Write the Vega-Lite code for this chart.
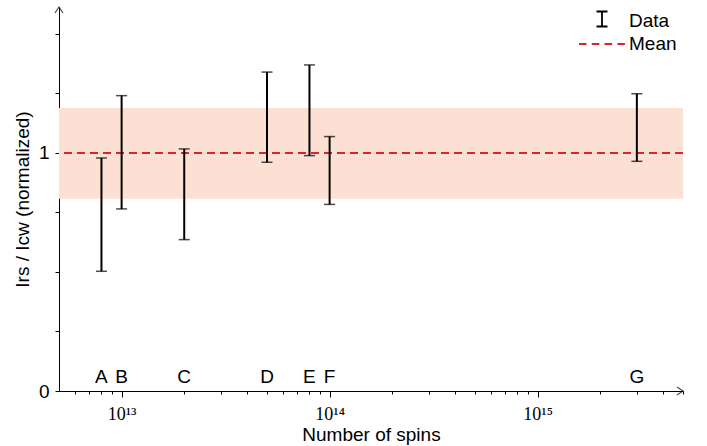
{
  "$schema": "https://vega.github.io/schema/vega-lite/v6.json",
  "width": 624,
  "height": 384,
  "autosize": {"type": "none"},
  "padding": {"left": 59, "top": 7, "right": 24, "bottom": 55},
  "config": {
    "view": {"stroke": null},
    "font": "Liberation Sans",
    "axis": {"grid": false, "domainColor": "#000", "tickColor": "#000", "labelColor": "#000", "titleColor": "#000", "titleFontWeight": "normal"}
  },
  "datasets": {
    "points": [
      {"label": "A", "spins": 8e12, "lo": 0.503, "hi": 0.979},
      {"label": "B", "spins": 1e13, "lo": 0.765, "hi": 1.241},
      {"label": "C", "spins": 2e13, "lo": 0.636, "hi": 1.017},
      {"label": "D", "spins": 5e13, "lo": 0.961, "hi": 1.340},
      {"label": "E", "spins": 8e13, "lo": 0.989, "hi": 1.370},
      {"label": "F", "spins": 1e14, "lo": 0.784, "hi": 1.069},
      {"label": "G", "spins": 3e15, "lo": 0.965, "hi": 1.249}
    ],
    "band": [{"lo": 0.808, "hi": 1.189}],
    "mean": [{"mean": 1}],
    "legend": [{"series": "Data"}, {"series": "Mean"}]
  },
  "layer": [
    {
      "data": {"name": "band"},
      "mark": {"type": "rect", "color": "#fce0d4"},
      "encoding": {
        "y": {"field": "lo", "type": "quantitative", "scale": {"domain": [0, 1.6134], "nice": false, "zero": false},
          "axis": {
            "values": [0, 0.25, 0.5, 0.75, 1, 1.25, 1.5],
            "labelExpr": "datum.value == 0 ? '0' : (datum.value == 1 ? '1' : '')",
            "tickSize": 4, "labelPadding": 6, "labelFontSize": 19, "labelFont": "Liberation Sans",
            "domainWidth": 1, "tickWidth": 1,
            "title": "Irs / Icw (normalized)", "titleFontSize": 19, "titleFont": "Liberation Sans", "titlePadding": 6
          }},
        "y2": {"field": "hi"}
      }
    },
    {
      "data": {"name": "mean"},
      "mark": {"type": "rule", "color": "#d7262b", "strokeWidth": 2, "strokeDash": [8, 5]},
      "encoding": {"y": {"field": "mean", "type": "quantitative"}}
    },
    {
      "data": {"name": "points"},
      "mark": {"type": "rule", "color": "#000", "strokeWidth": 2},
      "encoding": {
        "x": {"field": "spins", "type": "quantitative",
          "scale": {"type": "log", "domain": [5e12, 5e15], "nice": false},
          "axis": {
            "values": [6e12, 7e12, 8e12, 9e12, 1e13, 2e13, 3e13, 4e13, 5e13, 6e13, 7e13, 8e13, 9e13, 1e14, 2e14, 3e14, 4e14, 5e14, 6e14, 7e14, 8e14, 9e14, 1e15, 2e15, 3e15, 4e15, 5e15],
            "labelExpr": "datum.value == 1e13 ? '10¹³' : (datum.value == 1e14 ? '10¹⁴' : (datum.value == 1e15 ? '10¹⁵' : ''))",
            "tickSize": {"condition": {"test": "datum.value == 1e13 || datum.value == 1e14 || datum.value == 1e15", "value": 6}, "value": 3},
            "labelPadding": 8, "labelFont": "Liberation Serif", "labelFontSize": 18, "labelFlush": false, "labelOverlap": false,
            "domainWidth": 1, "tickWidth": 1,
            "title": "Number of spins", "titleFontSize": 19, "titleFont": "Liberation Sans", "titlePadding": 2
          }},
        "y": {"field": "lo", "type": "quantitative"},
        "y2": {"field": "hi"}
      }
    },
    {
      "data": {"name": "points"},
      "mark": {"type": "tick", "orient": "horizontal", "color": "#000", "size": 11, "thickness": 1.5},
      "encoding": {
        "x": {"field": "spins", "type": "quantitative"},
        "y": {"field": "lo", "type": "quantitative"}
      }
    },
    {
      "data": {"name": "points"},
      "mark": {"type": "tick", "orient": "horizontal", "color": "#000", "size": 11, "thickness": 1.5},
      "encoding": {
        "x": {"field": "spins", "type": "quantitative"},
        "y": {"field": "hi", "type": "quantitative"}
      }
    },
    {
      "data": {"name": "points"},
      "mark": {"type": "text", "baseline": "alphabetic", "align": "center", "fontSize": 19, "font": "Liberation Sans", "color": "#000"},
      "encoding": {
        "x": {"field": "spins", "type": "quantitative"},
        "y": {"datum": 0.034},
        "text": {"field": "label"}
      }
    },
    {
      "data": {"name": "mean"},
      "mark": {"type": "point", "shape": "M-1.5,-1L0,0L-1.5,1", "size": 64, "filled": false, "stroke": "#000", "strokeWidth": 1.2},
      "encoding": {"x": {"datum": 5e15}, "y": {"datum": 0}}
    },
    {
      "data": {"name": "mean"},
      "mark": {"type": "point", "shape": "M-1,1.5L0,0L1,1.5", "size": 64, "filled": false, "stroke": "#000", "strokeWidth": 1.2},
      "encoding": {"x": {"datum": 5e12}, "y": {"datum": 1.6134}}
    },
    {
      "data": {"name": "legend"},
      "mark": {"type": "point", "filled": false, "opacity": 0},
      "encoding": {
        "shape": {"field": "series", "type": "nominal",
          "scale": {"domain": ["Data", "Mean"], "range": ["M-1.75,-0.95H-0.65M-1.2,-0.95V0.55M-1.75,0.55H-0.65", "M-3.5,0H-2.75M-2.22,0H-1.47M-0.94,0H-0.19M0.34,0H1.09"]},
          "legend": {"title": null, "orient": "none", "legendX": 544, "legendY": 3, "padding": 0, "symbolSize": 400, "symbolOpacity": 1, "symbolStrokeWidth": 1.8, "labelFontSize": 19, "labelFont": "Liberation Sans", "labelColor": "#000", "labelOffset": 4, "rowPadding": 2}},
        "stroke": {"field": "series", "type": "nominal",
          "scale": {"domain": ["Data", "Mean"], "range": ["#000", "#d7262b"]},
          "legend": {"title": null, "orient": "none", "legendX": 544, "legendY": 3, "padding": 0, "symbolSize": 400, "symbolOpacity": 1, "symbolStrokeWidth": 1.8, "labelFontSize": 19, "labelFont": "Liberation Sans", "labelColor": "#000", "labelOffset": 4, "rowPadding": 2}}
      }
    }
  ]
}
